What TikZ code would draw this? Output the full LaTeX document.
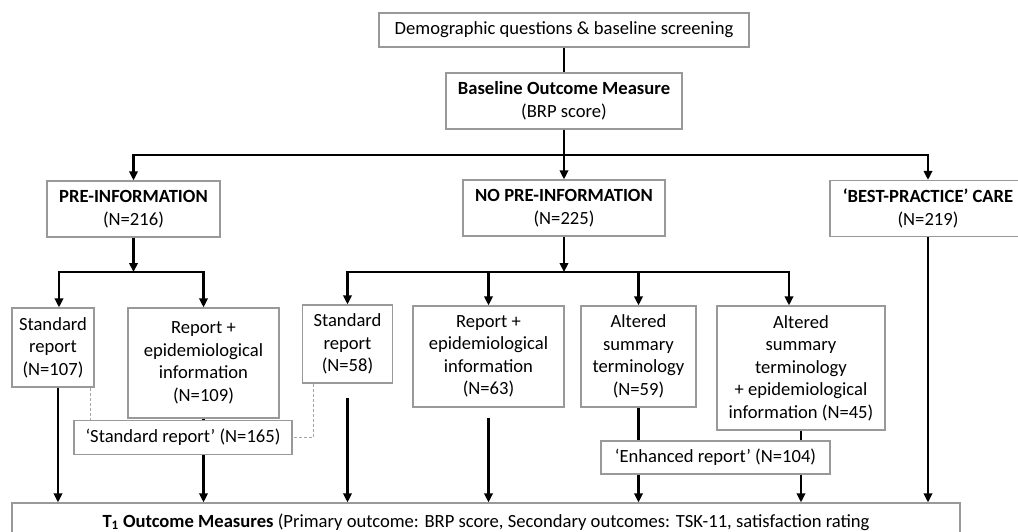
\documentclass[tikz,border=0pt]{standalone}
\usepackage{fontspec}
\setmainfont{Carlito}
\usetikzlibrary{arrows.meta}

\tikzset{
  box/.style={draw=black!40, line width=1.3pt, fill=white, align=center, inner sep=2pt,
    font=\fontsize{18.6}{22.5}\selectfont},
  link/.style={line width=2.1pt, black},
  arrow/.style={link, -{Triangle[width=8.5pt,length=9pt]}},
  grouplink/.style={draw=black!35, line width=1pt, dash pattern=on 3pt off 2pt},
}

\begin{document}
\begin{tikzpicture}[x=1pt, y=-1pt]
    \useasboundingbox (0,0) rectangle (1018,531);
    \clip (0,0) rectangle (1018,531);

    % Screening and baseline
    \node[box, minimum width=370pt, minimum height=34pt] (demo) at (564,30) {Demographic questions \& baseline screening};
    \node[box, minimum width=236pt, minimum height=56pt] (base) at (564,101) {\textbf{Baseline Outcome Measure}\\(BRP score)};

    % Three arms
    \node[box, minimum width=173pt, minimum height=56pt] (pre) at (133.5,209) {\textbf{PRE-INFORMATION}\\(N=216)};
    \node[box, minimum width=202pt, minimum height=56pt] (nopre) at (564,208) {\textbf{NO PRE-INFORMATION}\\(N=225)};
    \node[box, minimum width=196pt, minimum height=56pt] (best) at (928,208.5) {\textbf{‘BEST-PRACTICE’ CARE}\\(N=219)};

    % Report groups
    \node[box, minimum width=82pt, minimum height=79pt] (std1) at (53,347.5) {Standard\\report\\(N=107)};
    \node[box, minimum width=151pt, minimum height=110pt] (repepi1) at (203.5,363) {Report +\\epidemiological\\information\\(N=109)};
    \node[box, minimum width=90pt, minimum height=78pt] (std2) at (347.5,344) {Standard\\report\\(N=58)};
    \node[box, minimum width=151pt, minimum height=101pt] (repepi2) at (488.5,356.5) {Report +\\epidemiological\\information\\(N=63)};
    \node[box, minimum width=115pt, minimum height=101pt] (alt1) at (638.5,356.5) {Altered\\summary\\terminology\\(N=59)};
    \node[box, minimum width=168pt, minimum height=124pt] (alt2) at (801,368) {Altered\\summary\\terminology\\+ epidemiological\\information (N=45)};

    % Pooled reports
    \node[box, minimum width=218pt, minimum height=34pt] (stdall) at (183,437.5) {‘Standard report’ (N=165)};
    \node[box, minimum width=229pt, minimum height=33pt] (enh) at (715.5,457.5) {‘Enhanced report’ (N=104)};

    % Follow-up
    \node[box, minimum width=948pt, minimum height=38pt] (t1) at (486,522) {\textbf{T\textsubscript{1} Outcome Measures} (Primary outcome: BRP score, Secondary outcomes: TSK-11, satisfaction rating};

    % Top connectors
    \coordinate (split1) at (564,155);
    \draw[link] (demo) -- (base);
    \draw[link] (base) -- (split1);
    \draw[arrow] (split1) -| (pre.north);
    \draw[arrow] (split1) -- (nopre);
    \draw[arrow] (split1) -| (best.north);

    % Pre-information branch
    \coordinate (split2) at (133.5,272);
    \draw[arrow] (pre) -- (split2);
    \draw[arrow] (split2) -| ([xshift=6pt]std1.north);
    \draw[arrow] (split2) -| (repepi1.north);

    % No pre-information branch
    \coordinate (split3) at (564,272);
    \draw[arrow] (nopre) -- (split3);
    \draw[arrow] (split3) -| (std2.north);
    \draw[arrow] (split3) -| (repepi2.north);
    \draw[arrow] (split3) -| (alt1.north);
    \draw[arrow] (split3) -| ([xshift=-12pt]alt2.north);

    % Pooling
    \draw[link] (repepi1.south) -- (repepi1.south |- stdall.north);
    \draw[link] (alt1.south) -- (alt1.south |- enh.north);
    \draw[link] (alt2.south) -- (alt2.south |- enh.north);
    \draw[grouplink] ([xshift=37pt]std1.south) -- ([xshift=37pt]std1.south |- stdall.north);
    \draw[grouplink] ([xshift=-34.5pt]std2.south) |- (stdall.east);

    % Arrows to T1
    \draw[arrow] ([xshift=5pt]std1.south) -- ([xshift=5pt]std1.south |- t1.north);
    \draw[arrow] (stdall.south -| repepi1) -- (t1.north -| repepi1);
    \draw[arrow, shorten <=14pt] (std2.south) -- (std2.south |- t1.north);
    \draw[arrow, shorten <=10pt] (repepi2.south) -- (repepi2.south |- t1.north);
    \draw[arrow] (enh.south -| alt1) -- (t1.north -| alt1);
    \draw[arrow] (enh.south -| alt2) -- (t1.north -| alt2);
    \draw[arrow] (best.south) -- (best.south |- t1.north);
\end{tikzpicture}
\end{document}
